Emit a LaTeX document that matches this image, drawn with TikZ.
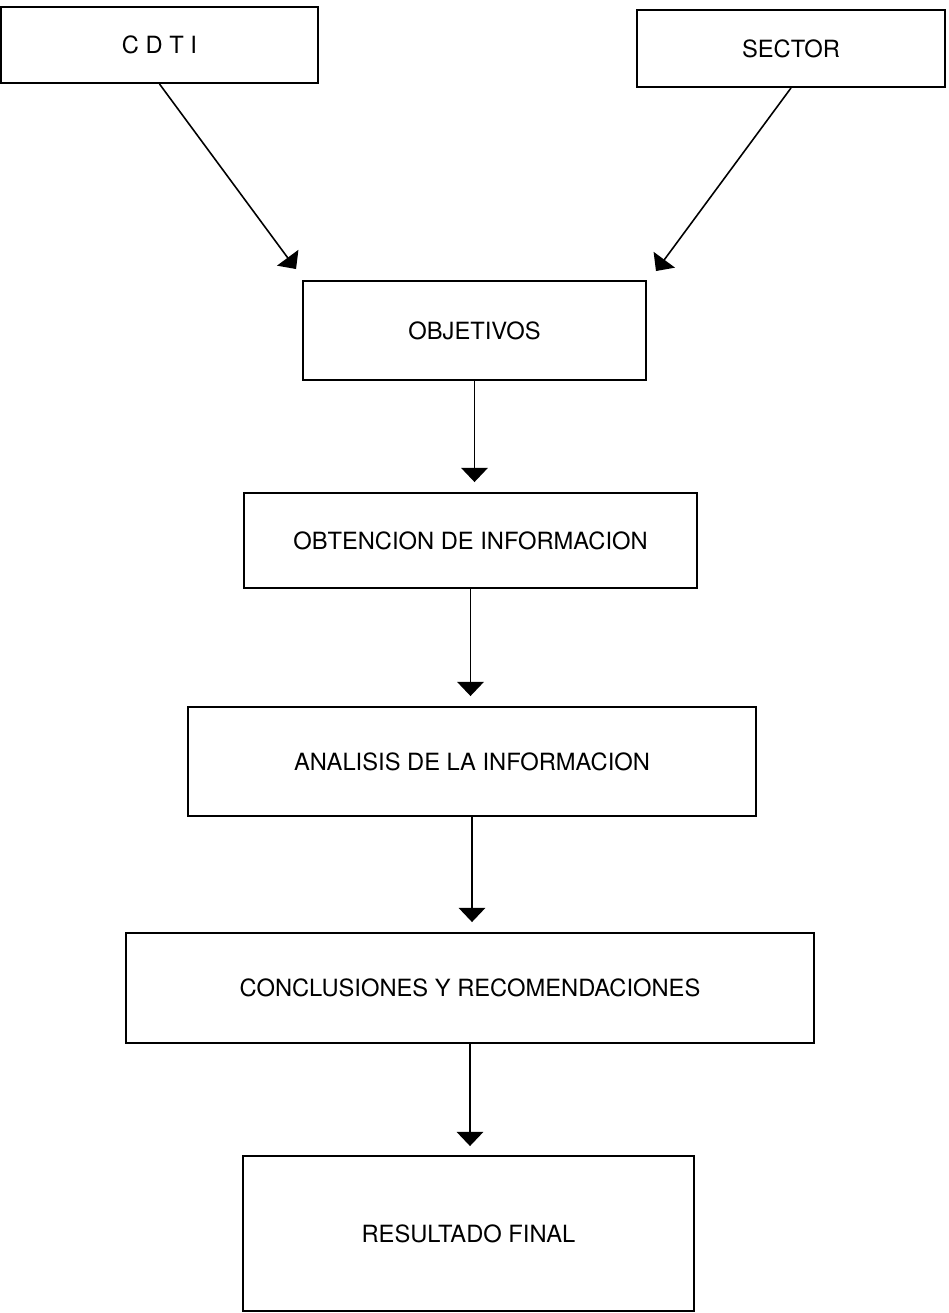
\documentclass[tikz,border=0pt]{standalone}
\usepackage{fontspec}
\setmainfont{TeX Gyre Heros}
\usepackage{tikz}
\usetikzlibrary{calc,arrows.meta}

\tikzset{
  stagebox/.style={draw, line width=1.1pt, inner sep=0pt, align=center,
    font=\fontsize{13.5}{16}\selectfont},
  flow/.style={line width=0.9pt, -{Triangle[width=15pt,length=8pt]}}
}

\begin{document}
\begin{tikzpicture}[x=0.02cm,y=-0.02cm]
    \useasboundingbox (0,0) rectangle (948,1313);

    \node [stagebox, minimum width=317*0.02cm, minimum height=76*0.02cm] (cdti) at (159.5,45) {C D T I};
    \node [stagebox, minimum width=308*0.02cm, minimum height=77*0.02cm] (sector) at (791,48.5) {SECTOR};
    \node [stagebox, minimum width=343*0.02cm, minimum height=99*0.02cm] (objetivos) at (474.5,330.5) {OBJETIVOS};
    \node [stagebox, minimum width=453*0.02cm, minimum height=95*0.02cm] (obtencion) at (470.5,540.5) {OBTENCION DE INFORMACION};
    \node [stagebox, minimum width=568*0.02cm, minimum height=109*0.02cm] (analisis) at (472,761.5) {ANALISIS DE LA INFORMACION};
    \node [stagebox, minimum width=688*0.02cm, minimum height=110*0.02cm] (conclusiones) at (470,988) {CONCLUSIONES Y RECOMENDACIONES};
    \node [stagebox, minimum width=451*0.02cm, minimum height=155*0.02cm] (resultado) at (468.5,1233.5) {RESULTADO FINAL};

    % Arrow tips above the objectives box
    \coordinate (objleft) at ($(objetivos.north west)+(-6,-11)$);
    \coordinate (objright) at ($(objetivos.north east)+(9,-9)$);
    \draw [flow] (cdti.south) -- (objleft);
    \draw [flow] (sector.south) -- (objright);

    % Vertical chain
    \draw [flow, shorten >=10*0.02cm] (objetivos) -- (objetivos |- obtencion.north);
    \draw [flow, shorten >=10*0.02cm] (obtencion) -- (obtencion |- analisis.north);
    \draw [flow, shorten >=10*0.02cm] (analisis) -- (analisis |- conclusiones.north);
    \draw [flow, shorten >=9*0.02cm] (conclusiones) -- (conclusiones |- resultado.north);
  \end{tikzpicture}
\end{document}
